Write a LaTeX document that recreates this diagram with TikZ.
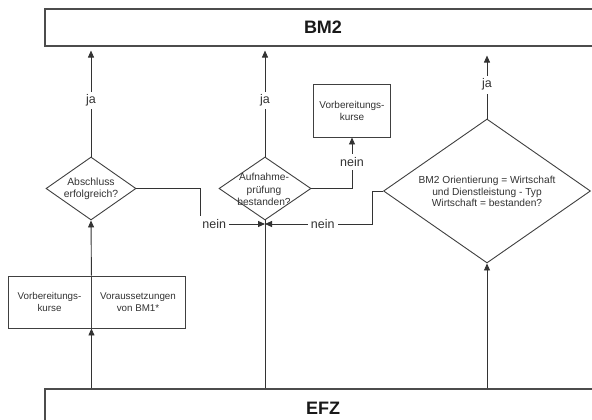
\documentclass[tikz,border=0pt]{standalone}
\usepackage{fontspec}
\setmainfont{Liberation Sans}
\usetikzlibrary{shapes.geometric,arrows.meta}
\begin{document}
\begin{tikzpicture}[x=1pt,y=-1pt,
  ln/.style={draw=black!80,line width=0.9pt},
  arr/.style={ln,-{Triangle[length=7pt,width=6pt]}},
  big/.style={draw=black!70,line width=1.1pt,rectangle,inner sep=0pt,text=black!90,font=\fontsize{18}{21}\selectfont\bfseries},
  box/.style={draw=black!75,line width=0.9pt,rectangle,inner sep=0pt,align=center,text=black!80,font=\fontsize{9.8}{12}\selectfont},
  dia/.style={draw=black!75,line width=0.9pt,diamond,inner sep=0pt},
  dtxt/.style={align=center,inner sep=0pt,text=black!80,font=\fontsize{10.4}{12}\selectfont},
  lab/.style={fill=white,inner sep=3pt,text=black!80,font=\fontsize{12.5}{14}\selectfont}
]
\clip (0,0) rectangle (592,420);
\fill[white] (0,0) rectangle (592,420);
% big boxes
\node[big,minimum width=556pt,minimum height=37pt] (bm2) at (323,27.5) {BM2};
\node[big,minimum width=556pt,minimum height=44pt] (efz) at (323,411) {};
\node[inner sep=0pt,text=black!90,font=\fontsize{18}{21}\selectfont\bfseries] (efzt) at (323,408) {EFZ};
% diamonds
\node[dia,minimum width=90pt,minimum height=63pt] (d1) at (91,188.5) {};
\node[dtxt] (d1t) at (91,189) {Abschluss\\erfolgreich?};
\node[dia,minimum width=92pt,minimum height=63pt] (d2) at (265,188.5) {};
\node[dtxt,font=\fontsize{10.2}{12.5}\selectfont] (d2t) at (264,189.5) {Aufnahme-\\prüfung\\bestanden?};
\node[dia,minimum width=207pt,minimum height=144pt] (d3) at (487,191) {};
\node[dtxt,font=\fontsize{10.2}{11.6}\selectfont] (d3t) at (487,191.5) {BM2 Orientierung = Wirtschaft\\und Dienstleistung - Typ\\Wirtschaft = bestanden?};
% boxes
\node[box,font=\fontsize{10}{12}\selectfont,minimum width=77pt,minimum height=53pt] (k1) at (352,110.5) {Vorbereitungs-\\kurse};
\node[box,minimum width=83pt,minimum height=52pt] (ka) at (49.5,302) {Vorbereitungs-\\kurse};
\node[box,minimum width=94pt,minimum height=52pt] (kb) at (138,302) {Voraussetzungen\\von BM1*};
% ja arrows
\draw[arr,shorten >=4pt] (d1.north) -- (d1.north |- bm2.south) node[lab,pos=0.51] {ja};
\draw[arr,shorten >=4pt] (d2.north) -- (d2.north |- bm2.south) node[lab,pos=0.51] {ja};
\draw[arr,shorten >=9pt] (d3.north) -- (d3.north |- bm2.south) node[lab,pos=0.47] {ja};
% from EFZ
\draw[arr] (efz.north -| ka.south east) -- (ka.south east);
\draw[arr] (ka.north east) -- (d1.south);
\draw[ln] (efz.north -| d2.south) -- (d2.south);
\draw[arr] (efz.north -| d3.south) -- (d3.south);
% nein connectors
\coordinate (m) at (265,224);
\coordinate (c1) at (200,224);
\coordinate (c2) at (372,224);
\draw[arr] (d1.east) -| (c1) -- (m) node[lab,pos=0.22] {nein};
\draw[arr] (d3.west) -| (c2) -- (m) node[lab,pos=0.46] {nein};
\draw[arr] (d2.east) -| (k1.south) node[lab,pos=0.76] {nein};
\end{tikzpicture}
\end{document}
